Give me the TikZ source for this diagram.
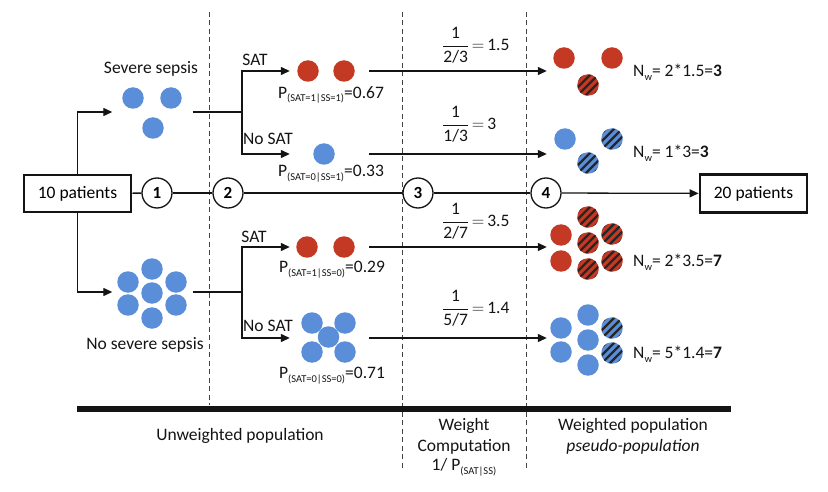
\documentclass[tikz,border=0pt]{standalone}
\usepackage{fontspec}
\setmainfont{Carlito}
\usepackage{amsmath}
\usetikzlibrary{arrows.meta}
\definecolor{cred}{RGB}{196,57,36}
\definecolor{cblue}{RGB}{91,142,216}
\definecolor{ink}{RGB}{20,20,20}
\newcommand{\subsm}[1]{\raisebox{-3.8pt}{\fontsize{10.5}{10.5}\selectfont #1}}
\begin{document}
\begin{tikzpicture}[x=1pt,y=-1pt,
  lbl/.style={font=\fontsize{17.5}{20}\selectfont, inner sep=0, text=ink},
  rdot/.style={circle, fill=cred, minimum size=21.5pt, inner sep=0},
  bdot/.style={circle, fill=cblue, minimum size=21.5pt, inner sep=0},
  hdot/.style={circle, fill=#1, minimum size=21.5pt, inner sep=0,
    path picture={\foreach \k/\m in {-8/8,-4/4,0/0,4/-4,8/-8}{
      \draw[line width=2.4pt, black!85]
        ([shift={(\k pt-12pt,\m pt-12pt)}]path picture bounding box.center) --
        ([shift={(\k pt+12pt,\m pt+12pt)}]path picture bounding box.center);}}},
  num/.style={circle, draw=ink, line width=1.3pt, minimum size=30pt, inner sep=0, fill=white,
    font=\bfseries\fontsize{17}{19}\selectfont},
  pbox/.style={draw=ink, line width=2.8pt, minimum width=107pt, minimum height=37pt, inner sep=0,
    font=\fontsize{17.5}{20}\selectfont, fill=white},
  grp/.style={inner sep=0, minimum width=#1, minimum height=4pt},
  ln/.style={line width=1.3pt, draw=ink},
  arr/.style={line width=1.3pt, draw=ink, -{Triangle[length=9pt,width=8pt]}},
  vdash/.style={line width=0.9pt, draw=ink!80, dash pattern=on 5pt off 3.5pt},
]
\useasboundingbox (0,0) rectangle (828,492);

% dashed separators and bottom bar
\draw[vdash] (209,12) -- (209,405);
\draw[vdash] (402,12) -- (402,470);
\draw[vdash] (526,12) -- (526,470);
\draw[line width=5.5pt, ink] (77,409) -- (731,409);

% main boxes and numbered circles
\node[pbox] (b10) at (77.5,193.5) {10 patients};
\node[pbox, minimum height=38pt] (b20) at (753.5,193.5) {20 patients};
\node[num] (c1) at (157,193) {1};
\node[num] (c2) at (228,193) {2};
\node[num] (c3) at (418,193) {3};
\node[num] (c4) at (546,193) {4};
\draw[ln] (b10) -- (c1);
\draw[ln] (c1) -- (c2);
\draw[ln] (c2) -- (c3);
\draw[ln] (c3) -- (c4);
\draw[arr] (c4) -- (b20);

% group anchors
\node[grp=80pt] (ss) at (152.5,112) {};
\node[grp=80pt] (ns) at (152.5,292) {};
\coordinate (j1) at (242,112);
\coordinate (j0) at (242,292);
\node[grp=79pt] (sat1) at (329.5,71) {};
\node[grp=79pt] (nsat1) at (329.5,154) {};
\node[grp=79pt] (sat0) at (329.5,247) {};
\node[grp=79pt] (nsat0) at (329.5,338) {};
\node[grp=82pt] (w1) at (588,71) {};
\node[grp=82pt] (w2) at (588,154) {};
\node[grp=82pt] (w3) at (588,247) {};
\node[grp=82pt] (w4) at (588,338) {};

% connectors
\draw[arr] (b10.north) |- (ss.west);
\draw[arr] (b10.south) |- (ns.west);
\draw[ln] (ss.east) -- (j1);
\draw[ln] (ns.east) -- (j0);
\draw[arr] (j1) |- (sat1.west);
\draw[arr] (j1) |- (nsat1.west);
\draw[arr] (j0) |- (sat0.west);
\draw[arr] (j0) |- (nsat0.west);
\draw[arr] (sat1.east) -- (w1.west);
\draw[arr] (nsat1.east) -- (w2.west);
\draw[arr] (sat0.east) -- (w3.west);
\draw[arr] (nsat0.east) -- (w4.west);

% severe sepsis
\node[lbl] (lss) at (151,69) {Severe sepsis};
\node[bdot] (s1) at (133,98) {};
\node[bdot] (s2) at (171,98) {};
\node[bdot] (s3) at (153,128) {};

% no severe sepsis
\node[bdot] (n1) at (152,269) {};
\node[bdot] (n2) at (128,282) {};
\node[bdot] (n3) at (176,282) {};
\node[bdot] (n4) at (152,293) {};
\node[bdot] (n5) at (128,305) {};
\node[bdot] (n6) at (176,305) {};
\node[bdot] (n7) at (152,318) {};
\node[lbl] (lns) at (145,345) {No severe sepsis};

% branch labels
\node[lbl] (t1) at (255,60) {SAT};
\node[lbl] (t2) at (268,139) {No SAT};
\node[lbl] (t3) at (254,237) {SAT};
\node[lbl] (t4) at (268,326) {No SAT};

% unweighted subgroups
\node[rdot] (a1) at (308,71) {};
\node[rdot] (a2) at (344,71) {};
\node[lbl] (p1) at (331,95) {P\subsm{(SAT=1|SS=1)}=0.67};
\node[bdot] (a3) at (324,154) {};
\node[lbl] (p2) at (331,174) {P\subsm{(SAT=0|SS=1)}=0.33};
\node[rdot] (a4) at (307,247) {};
\node[rdot] (a5) at (344,247) {};
\node[lbl] (p3) at (332,270) {P\subsm{(SAT=1|SS=0)}=0.29};
\node[bdot] (a6) at (312,323) {};
\node[bdot] (a7) at (345,323) {};
\node[bdot] (a8) at (328.5,337) {};
\node[bdot] (a9) at (312,352) {};
\node[bdot] (a10) at (345,352) {};
\node[lbl] (p4) at (332,376) {P\subsm{(SAT=0|SS=0)}=0.71};

% weights
\node[lbl, anchor=west] (f1) at (442,45) {$\displaystyle\frac{\mbox{1}}{\mbox{2/3}}\,{=}\,\mbox{1.5}$};
\node[lbl, anchor=west] (f2) at (442,124) {$\displaystyle\frac{\mbox{1}}{\mbox{1/3}}\,{=}\,\mbox{3}$};
\node[lbl, anchor=west] (f3) at (442,221) {$\displaystyle\frac{\mbox{1}}{\mbox{2/7}}\,{=}\,\mbox{3.5}$};
\node[lbl, anchor=west] (f4) at (442,308) {$\displaystyle\frac{\mbox{1}}{\mbox{5/7}}\,{=}\,\mbox{1.4}$};

% weighted populations
\node[rdot] (r1) at (564,58) {};
\node[rdot] (r2) at (612,58) {};
\node[hdot=cred] (r3) at (588,85) {};
\node[lbl, anchor=west] (nw1) at (633,72) {N\subsm{w}= 2*1.5=\textbf{3}};

\node[bdot] (u1) at (565,139) {};
\node[hdot=cblue] (u2) at (612,139) {};
\node[hdot=cblue] (u3) at (588,163) {};
\node[lbl, anchor=west] (nw2) at (633,153) {N\subsm{w}= 1*3=\textbf{3}};

\node[hdot=cred] (v1) at (588,217) {};
\node[rdot] (v2) at (561,235) {};
\node[hdot=cred] (v3) at (588,243) {};
\node[hdot=cred] (v4) at (612,234) {};
\node[rdot] (v5) at (561,261) {};
\node[hdot=cred] (v6) at (588,269) {};
\node[hdot=cred] (v7) at (612,261) {};
\node[lbl, anchor=west] (nw3) at (633,262) {N\subsm{w}= 2*3.5=\textbf{7}};

\node[bdot] (x1) at (588,315) {};
\node[bdot] (x2) at (561,328) {};
\node[hdot=cblue] (x3) at (612,328) {};
\node[bdot] (x4) at (588,340) {};
\node[bdot] (x5) at (561,352) {};
\node[hdot=cblue] (x6) at (612,353) {};
\node[bdot] (x7) at (588,365) {};
\node[lbl, anchor=west] (nw4) at (633,354) {N\subsm{w}= 5*1.4=\textbf{7}};

% bottom captions
\node[lbl] (cap1) at (240,436) {Unweighted population};
\node[lbl] (cap2) at (464,426) {Weight};
\node[lbl] (cap3) at (464,447) {Computation};
\node[lbl] (cap4) at (464,467) {1/ P\subsm{(SAT|SS)}};
\node[lbl] (cap5) at (633,426) {Weighted population};
\node[lbl] (cap6) at (633,447) {\itshape pseudo-population};
\end{tikzpicture}
\end{document}
